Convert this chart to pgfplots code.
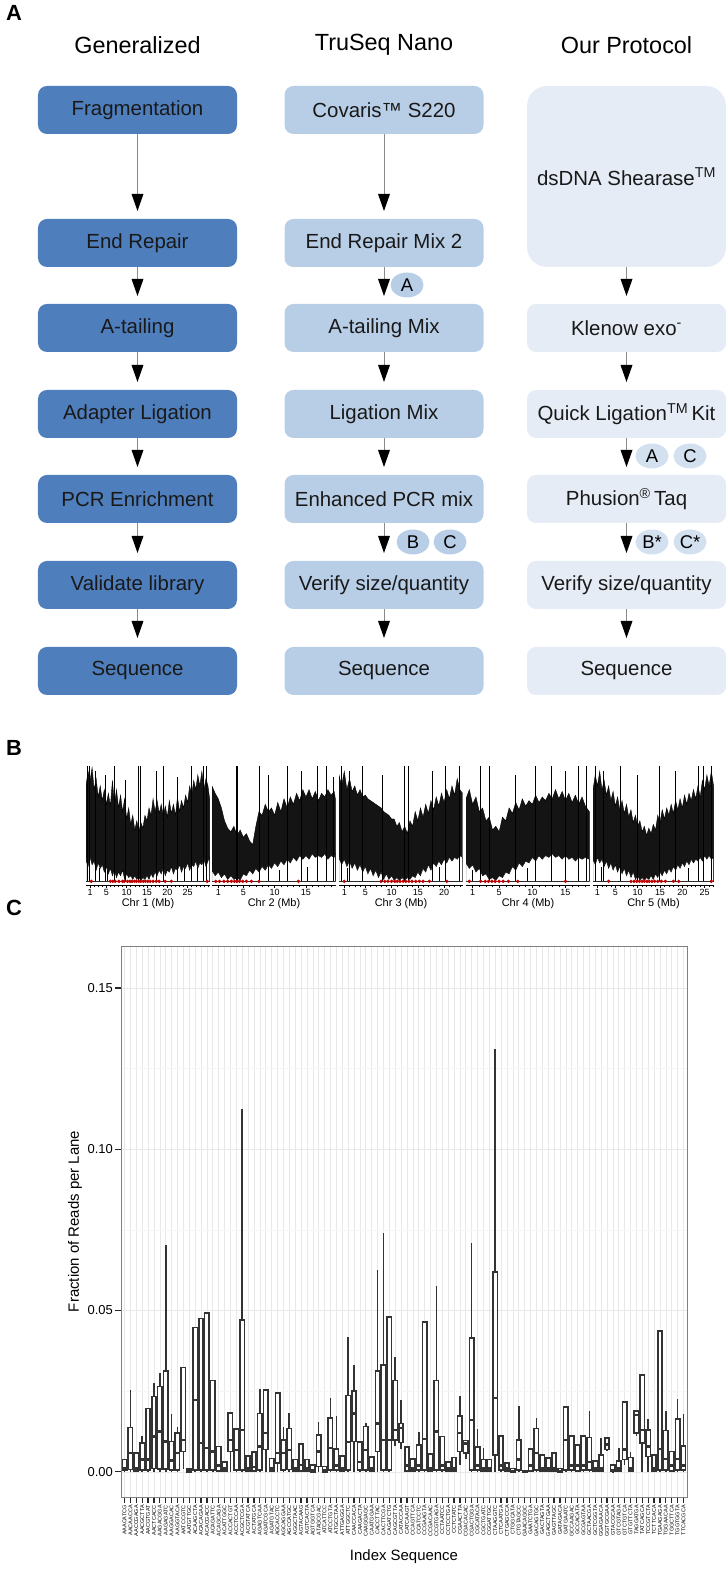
\documentclass[border=0pt]{standalone}
\usepackage{pgfplots}
\pgfplotsset{compat=1.18}
\usepgfplotslibrary{statistics}
\usetikzlibrary{shapes.geometric}
\usepackage{fontspec}
\setmainfont{Liberation Sans}
\definecolor{cA}{HTML}{4F7EBD}
\definecolor{cB}{HTML}{B8CEE6}
\definecolor{cC}{HTML}{E5ECF6}
\definecolor{eC}{HTML}{D3E0F0}
\definecolor{agray}{HTML}{8A8A8A}
\definecolor{bxc}{HTML}{333333}
\newcommand{\fs}[1]{\fontsize{#1}{#1}\selectfont}
\newcommand{\arr}[3]{\draw[agray, line width=0.9] (#1,{1578-#2}) -- (#1,{1578-#3+17});
  \fill[black] ({#1-6},{1578-#3+17}) -- ({#1+6},{1578-#3+17}) -- (#1,{1578-#3}) -- cycle;}
% box values are given in percent of reads per lane (fraction x 100)
\newcommand{\bx}[6]{\addplot[bxs, boxplot prepared={draw direction=y, draw position=#1, lower whisker=#2, lower quartile=#3, median=#4, upper quartile=#5, upper whisker=#6}] coordinates {};}
\pgfplotsset{chrax/.style={anchor=south west, scale only axis, width=124bp, height=121bp, ymin=-2, ymax=64,
  axis x line*=bottom, axis y line=none, xmin=0, axis on top,
  xtick={1,5,10,15,20,25}, minor xtick={1,2,...,30}, tick align=outside,
  major tick length=3bp, minor tick length=2.5bp, tick style={black, line width=0.5bp},
  x tick label style={font=\fs{9}, inner sep=1.5bp}, xlabel style={font=\fs{11}, inner sep=1bp},
  /pgf/number format/assume math mode=true, axis line style={black, line width=0.5bp}},
  up/.style={fill=black!92, draw=black, line width=0.4bp},
  lo/.style={fill=white, draw=black, line width=0.4bp},
  bxs/.style={draw=bxc, line width=1.6bp, fill=white, solid, boxplot/every median/.style={line width=2.4bp}}}
\begin{document}
\begin{tikzpicture}[x=1bp, y=1bp]
\path (0,0) rectangle (725,1578);
% ---------- Panel A ----------
\node[font=\bfseries\fs{22}] at (14,1565) {A};
\node[font=\fs{23.5}] at (137.5,1533) {Generalized};
\node[font=\fs{23.5}] at (384,1533) {TruSeq Nano};
\node[font=\fs{23.5}] at (626.5,1533) {Our Protocol};
\tikzset{bx/.style={rounded corners=9bp, minimum width=199bp, minimum height=48bp, inner sep=0pt, font=\fs{20.5}, text=black!90}}
\foreach \t/\y in {Fragmentation/1468, End Repair/1335, A-tailing/1250, Adapter Ligation/1164, PCR Enrichment/1079, Validate library/993, Sequence/907}
  {\node[bx, fill=cA] at (137.5,\y) {\t};}
\node[bx, fill=cB] at (384,1468) {Covaris™ S220};
\node[bx, fill=cB] at (384,1335) {End Repair Mix 2};
\node[bx, fill=cB] at (384,1250) {A-tailing Mix};
\node[bx, fill=cB] at (384,1164) {Ligation Mix};
\node[bx, fill=cB] at (384,1079) {Enhanced PCR mix};
\node[bx, fill=cB] at (384,993) {Verify size/quantity};
\node[bx, fill=cB] at (384,907) {Sequence};
\node[bx, fill=cC, rounded corners=20bp, minimum height=181bp] at (626.5,1401.5) {dsDNA Shearase\textsuperscript{TM}};
\node[bx, fill=cC] at (626.5,1250) {Klenow exo\textsuperscript{-}};
\node[bx, fill=cC] at (626.5,1164) {Quick Ligation\textsuperscript{TM}\,Kit};
\node[bx, fill=cC] at (626.5,1079) {Phusion\textsuperscript{®}\,Taq};
\node[bx, fill=cC] at (626.5,993) {Verify size/quantity};
\node[bx, fill=cC] at (626.5,907) {Sequence};
\foreach \xx in {137.5,384}{\arr{\xx}{134}{211}}
\foreach \xx in {137.5,384,626.5}{\arr{\xx}{267}{296}\arr{\xx}{352}{382}\arr{\xx}{438}{467}\arr{\xx}{523}{553}\arr{\xx}{609}{638}}
\tikzset{el/.style={ellipse, minimum width=33bp, minimum height=25bp, inner sep=0pt, font=\fs{18.5}}}
\node[el, fill=cB] at (407,1293) {A};
\node[el, fill=cB] at (413,1036) {B};
\node[el, fill=cB] at (450,1036) {C};
\node[el, fill=eC] at (652,1122) {A};
\node[el, fill=eC] at (690,1122) {C};
\node[el, fill=eC] at (652,1036) {B*};
\node[el, fill=eC] at (690,1036) {C*};
% ---------- Panel B ----------
\node[font=\bfseries\fs{22}] at (14,830) {B};
\begin{axis}[chrax, at={(86bp,693bp)}, xmax=30.5, xlabel={Chr 1 (Mb)},
  axis y line*=left, ytick={0,10,...,60}, ylabel={Coverage},
  yticklabel style={rotate=90, anchor=south, font=\fs{8.5}, inner sep=1.5bp},
  ylabel style={font=\fs{13}, inner sep=1bp}]
\addplot[up] coordinates {(0,52)(0.5,60)(1,55)(1.5,62)(2,50)(2.5,56)(3,46)(3.5,52)(4,44)(4.5,50)(5,42)(5.5,48)(6,41)(6.5,55)(7,42)(7.5,50)(8,40)(8.5,47)(9,38)(9.5,45)(10,34)(10.5,40)(11,31)(11.5,36)(12,28)(12.5,33)(13,27)(13.5,32)(14,29)(14.5,36)(15,33)(15.5,40)(16,36)(16.5,45)(17,38)(17.5,44)(18,37)(18.5,42)(19,36)(19.5,41)(20,35)(20.5,44)(21,37)(21.5,42)(22,36)(22.5,46)(23,38)(23.5,44)(24,40)(24.5,47)(25,43)(25.5,52)(26,47)(26.5,55)(27,50)(27.5,58)(28,52)(28.5,60)(29,50)(29.5,56)(30,52)(30.4,45)} \closedcycle;
\addplot[lo] coordinates {(0,12)(0.5,8)(1,13)(1.5,9)(2,11)(2.5,6)(3,10)(3.5,7)(4,9)(4.5,5)(5,8)(5.5,4)(6,7)(6.5,3)(7,6)(7.5,2)(8,5)(8.5,3)(9,6)(9.5,1)(10,4)(10.5,2)(11,3)(11.5,1)(12,3)(12.5,1)(13,2)(13.5,0.5)(14,2)(14.5,1)(15,3)(15.5,1)(16,4)(16.5,2)(17,5)(17.5,3)(18,6)(18.5,4)(19,7)(19.5,3)(20,6)(20.5,5)(21,8)(21.5,4)(22,7)(22.5,6)(23,9)(23.5,5)(24,8)(24.5,7)(25,10)(25.5,6)(26,9)(26.5,8)(27,11)(27.5,7)(28,10)(28.5,9)(29,12)(29.5,8)(30,11)(30.4,13)} \closedcycle;
\addplot[ycomb, black, line width=0.6bp, mark=none] coordinates {(0.3,63)(0.9,63)(2.2,60)(4.8,58)(7.0,63)(9.6,55)(12.9,63)(13.4,63)(17.4,60)(19.1,63)(22.5,57)(26.0,63)(28.9,63)(29.6,63)(0.8,9)(3.3,7)(5.2,6)(24.2,7)(27.3,8)};
\addplot[only marks, mark=*, mark size=1.5bp, color=red!75!black] coordinates {(1.3,0)(6.0,0)(6.6,0)(7.2,0)(8.1,0)(9.0,0)(9.4,0)(10.2,0)(10.8,0)(11.3,0)(11.9,0)(12.4,0)(13.0,0)(13.5,0)(14.1,0)(14.6,0)(15.2,0)(15.8,0)(16.5,0)(17.3,0)(18.0,0)(19.5,0)(21.0,0)(29.8,0)};
\end{axis}
\begin{axis}[chrax, at={(212bp,693bp)}, xmax=19.8, xlabel={Chr 2 (Mb)}]
\addplot[up] coordinates {(0,52)(0.5,48)(1,45)(1.5,40)(2,33)(2.5,29)(3,27)(3.5,30)(4,25)(4.5,28)(5,24)(5.5,26)(6,22)(6.5,20)(7,30)(7.5,38)(8,36)(8.5,42)(9,38)(9.5,40)(10,36)(10.5,43)(11,38)(11.5,45)(12,40)(12.5,46)(13,42)(13.5,48)(14,44)(14.5,50)(15,46)(15.5,50)(16,45)(16.5,49)(17,44)(17.5,48)(18,46)(18.5,50)(19,47)(19.5,49)(19.7,45)} \closedcycle;
\addplot[lo] coordinates {(0,6)(0.5,3)(1,5)(1.5,2)(2,4)(2.5,1)(3,3)(3.5,1)(4,2)(4.5,0.5)(5,4)(5.5,3)(6,6)(6.5,4)(7,7)(7.5,5)(8,8)(8.5,6)(9,9)(9.5,7)(10,10)(10.5,8)(11,11)(11.5,9)(12,12)(12.5,10)(13,13)(13.5,11)(14,14)(14.5,12)(15,14)(15.5,12)(16,15)(16.5,13)(17,14)(17.5,13)(18,15)(18.5,12)(19,14)(19.5,13)(19.7,15)} \closedcycle;
\addplot[ycomb, black, line width=0.6bp, mark=none] coordinates {(3.8,63)(4.1,63)(7.5,63)(9.0,58)(12.0,63)(14.3,60)(16.8,63)(18.3,63)(19.4,57)(1.2,0.5)(10.8,6)(15.2,8)};
\addplot[only marks, mark=*, mark size=1.5bp, color=red!75!black] coordinates {(0.6,0)(1.2,0)(1.9,0)(2.5,0)(3.1,0)(3.6,0)(4.0,0)(4.4,0)(4.9,0)(5.5,0)(6.3,0)(7.5,0)(13.8,0)};
\end{axis}
\begin{axis}[chrax, at={(339bp,693bp)}, xmax=23.6, xlabel={Chr 3 (Mb)}]
\addplot[up] coordinates {(0,58)(0.5,52)(1,60)(1.5,50)(2,56)(2.5,49)(3,52)(3.5,47)(4,50)(4.5,46)(5,47)(5.5,45)(6,44)(6.5,43)(7,42)(7.5,41)(8,40)(8.5,38)(9,37)(9.5,36)(10,34)(10.5,34)(11,30)(11.5,32)(12,27)(12.5,30)(13,26)(13.5,33)(14,30)(14.5,38)(15,33)(15.5,40)(16,35)(16.5,42)(17,37)(17.5,44)(18,39)(18.5,46)(19,41)(19.5,48)(20,43)(20.5,50)(21,45)(21.5,52)(22,47)(22.5,56)(23,50)(23.5,48)} \closedcycle;
\addplot[lo] coordinates {(0,13)(0.5,9)(1,12)(1.5,8)(2,11)(2.5,7)(3,10)(3.5,6)(4,9)(4.5,5)(5,8)(5.5,4)(6,7)(6.5,3)(7,6)(7.5,2)(8,5)(8.5,1)(9,4)(9.5,1)(10,3)(10.5,0.5)(11,2)(11.5,0.5)(12,2)(12.5,0.5)(13,2)(13.5,1)(14,3)(14.5,2)(15,5)(15.5,3)(16,7)(16.5,5)(17,9)(17.5,6)(18,10)(18.5,8)(19,11)(19.5,9)(20,12)(20.5,10)(21,13)(21.5,11)(22,13)(22.5,12)(23,14)(23.5,13)} \closedcycle;
\addplot[ycomb, black, line width=0.6bp, mark=none] coordinates {(0.4,63)(2.0,60)(4.5,63)(8.2,58)(12.5,63)(13.1,63)(17.8,60)(20.3,63)(22.9,63)(1.5,7)(19.0,8)};
\addplot[only marks, mark=*, mark size=1.5bp, color=red!75!black] coordinates {(1.0,0)(8.0,0)(8.7,0)(9.3,0)(10.0,0)(10.6,0)(11.1,0)(11.6,0)(12.2,0)(12.7,0)(13.3,0)(13.9,0)(14.6,0)(15.3,0)(16.0,0)(17.2,0)(20.5,0)};
\end{axis}
\begin{axis}[chrax, at={(466bp,693bp)}, xmax=18.7, xlabel={Chr 4 (Mb)}]
\addplot[up] coordinates {(0,45)(0.5,50)(1,42)(1.5,46)(2,38)(2.5,40)(3,33)(3.5,35)(4,28)(4.5,30)(5,27)(5.5,35)(6,33)(6.5,40)(7,37)(7.5,43)(8,39)(8.5,45)(9,41)(9.5,44)(10,42)(10.5,47)(11,43)(11.5,46)(12,44)(12.5,48)(13,45)(13.5,50)(14,45)(14.5,49)(15,44)(15.5,48)(16,43)(16.5,47)(17,42)(17.5,46)(18,41)(18.6,38)} \closedcycle;
\addplot[lo] coordinates {(0,10)(0.5,7)(1,9)(1.5,5)(2,7)(2.5,3)(3,4)(3.5,1)(4,2)(4.5,0.5)(5,3)(5.5,2)(6,5)(6.5,4)(7,8)(7.5,6)(8,10)(8.5,8)(9,11)(9.5,10)(10,13)(10.5,11)(11,14)(11.5,12)(12,14)(12.5,13)(13,15)(13.5,13)(14,14)(14.5,12)(15,14)(15.5,12)(16,13)(16.5,11)(17,13)(17.5,12)(18,13)(18.6,12)} \closedcycle;
\addplot[ycomb, black, line width=0.6bp, mark=none] coordinates {(2.1,63)(3.5,63)(7.4,58)(10.5,63)(12.8,63)(14.9,60)(17.0,63)(18.2,63)(1.0,6)(9.2,7)};
\addplot[only marks, mark=*, mark size=1.5bp, color=red!75!black] coordinates {(0.5,0)(2.2,0)(2.9,0)(3.4,0)(3.9,0)(4.4,0)(5.0,0)(5.6,0)(6.4,0)(7.8,0)(15.0,0)};
\end{axis}
\begin{axis}[chrax, at={(593bp,693bp)}, xmax=27.1, width=121bp, xlabel={Chr 5 (Mb)}]
\addplot[up] coordinates {(0,50)(0.5,58)(1,52)(1.5,60)(2,50)(2.5,55)(3,47)(3.5,52)(4,44)(4.5,49)(5,41)(5.5,46)(6,39)(6.5,44)(7,37)(7.5,42)(8,35)(8.5,39)(9,32)(9.5,36)(10,30)(10.5,33)(11,27)(11.5,30)(12,25)(12.5,29)(13,26)(13.5,31)(14,28)(14.5,36)(15,32)(15.5,39)(16,34)(16.5,40)(17,36)(17.5,42)(18,37)(18.5,44)(19,39)(19.5,45)(20,40)(20.5,47)(21,42)(21.5,48)(22,44)(22.5,50)(23,45)(23.5,52)(24,46)(24.5,55)(25,50)(25.5,58)(26,52)(26.5,60)(27,52)} \closedcycle;
\addplot[lo] coordinates {(0,12)(0.5,9)(1,13)(1.5,10)(2,12)(2.5,8)(3,11)(3.5,7)(4,10)(4.5,6)(5,9)(5.5,5)(6,8)(6.5,4)(7,7)(7.5,3)(8,6)(8.5,2)(9,5)(9.5,1)(10,3)(10.5,0.5)(11,2)(11.5,0.5)(12,2)(12.5,1)(13,3)(13.5,1)(14,4)(14.5,2)(15,5)(15.5,3)(16,6)(16.5,4)(17,7)(17.5,5)(18,8)(18.5,6)(19,9)(19.5,7)(20,10)(20.5,8)(21,11)(21.5,9)(22,12)(22.5,10)(23,12)(23.5,11)(24,13)(24.5,11)(25,14)(25.5,12)(26,14)(26.5,12)(27,13)} \closedcycle;
\addplot[ycomb, black, line width=0.6bp, mark=none] coordinates {(0.5,63)(2.3,60)(6.1,63)(9.9,58)(14.8,63)(18.5,60)(23.5,63)(24.8,63)(26.4,63)(1.8,8)(21.4,7)};
\addplot[only marks, mark=*, mark size=1.5bp, color=red!75!black] coordinates {(3.5,0)(8.5,0)(9.2,0)(9.8,0)(10.4,0)(11.0,0)(11.5,0)(12.1,0)(12.6,0)(13.2,0)(13.8,0)(14.5,0)(15.3,0)(16.2,0)(18.0,0)(19.2,0)(26.5,0)};
\end{axis}
% ---------- Panel C ----------
\node[font=\bfseries\fs{22}] at (14,670) {C};
\begin{axis}[at={(121bp,81bp)}, anchor=south west, scale only axis, width=566bp, height=551bp,
  xmin=0.4, xmax=96.6, ymin=-0.78, ymax=16.3,
  xtick={1,...,96}, xtick pos=bottom, ytick pos=left,
  xticklabels={AAACATCG,AACAACCA,AACCGAGA,AACGCTTA,AACGTGAT,AACTCACC,AAGACGGA,AAGAGATC,AAGGACAC,AAGGTACA,AATCCGTC,AATGTTGC,ACAAGCTA,ACACAGAA,ACACGACC,ACAGATTC,ACAGCAGA,ACATTGGC,ACCACTGT,ACCTCCAA,ACGCTCGA,ACGTATCA,ACTATGCA,AGAGTCAA,AGATCGCA,AGATGTAC,AGCACCTC,AGCAGGAA,AGCCATGC,AGGCTAAC,AGTACAAG,AGTCACTA,AGTGGTCA,ATAGCGAC,ATCATTCC,ATCCTGTA,ATGCCTAA,ATTGAGGA,ATTGGCTC,CAACCACA,CAAGACTA,CAAGGAGC,CAATGGAA,CACCTTAC,CACTTCGA,CAGATCTG,CAGCGTTA,CATACCAA,CATCAAGT,CCAGTTCA,CCATCCTC,CCGAAGTA,CCGACAAC,CCGTGAGA,CCTAATCC,CCTCCTGA,CCTCTATC,CGAACTTA,CGACACAC,CGACTGGA,CGCATACA,CGCTGATC,CGGATTGC,CTAAGGTC,CTCAATGA,CTGAGCCA,CTGGCATA,CTGTAGCC,GAACAGGC,GAATCTGA,GACAGTGC,GACTAGTA,GAGCTGAA,GAGTTAGC,GATAGACA,GATGAATC,GCCAAGAC,GCCACATA,GCGAGTAA,GCTAACGA,GCTCGGTA,GGAGAACA,GGTGCGAA,GTACGCAA,GTCGTAGA,GTCTGTCA,GTGTTCTA,TAGGATGA,TATCAGCA,TCCGTCTA,TCTTCACA,TGAAGAGA,TGGAACAA,TGGCTTCA,TGGTGGTA,TTCACGCA},
  ytick={0,5,10,15}, yticklabels={0.00,0.05,0.10,0.15}, minor ytick={2.5,7.5,12.5},
  xmajorgrids, ymajorgrids, yminorgrids,
  major grid style={draw=black!9, line width=0.6bp}, minor grid style={draw=black!4, line width=0.5bp},
  axis line style={draw=black!50, line width=0.7bp},
  tick align=outside, major tick length=6bp, minor tick length=0bp, tick style={draw=black!85, line width=1.2bp},
  x tick label style={rotate=90, anchor=east, font=\fs{5.5}, inner sep=2bp},
  y tick label style={font=\fs{13}, inner sep=2bp},
  xlabel={Index Sequence}, ylabel={Fraction of Reads per Lane},
  xlabel style={font=\fs{15}, inner sep=2bp, yshift=-9bp}, ylabel style={font=\fs{15}},
  boxplot/draw direction=y, boxplot/box extend=0.75, boxplot/whisker extend=0]
\bx{1}{0}{0.04}{0.10}{0.38}{0.38}
\bx{2}{0}{0.07}{0.58}{1.38}{2.55}
\bx{3}{0}{0.03}{0.10}{0.58}{0.58}
\bx{4}{0}{0.05}{0.38}{0.89}{1.10}
\bx{5}{0}{0.05}{0.38}{1.96}{1.96}
\bx{6}{0}{0.10}{1.10}{2.34}{2.75}
\bx{7}{0}{0.08}{1.25}{2.65}{3.06}
\bx{8}{0}{0.08}{0.94}{3.12}{7.03}
\bx{9}{0}{0.05}{0.35}{0.94}{1.80}
\bx{10}{0}{0.05}{0.58}{1.20}{1.38}
\bx{11}{0.10}{0.63}{0.99}{3.24}{3.24}
\bx{12}{0}{0}{0.03}{0.08}{0.10}
\bx{13}{0}{0.05}{2.22}{4.47}{4.47}
\bx{14}{0}{0.05}{0.89}{4.75}{4.75}
\bx{15}{0}{0.05}{0.74}{4.93}{4.93}
\bx{16}{0}{0.05}{0.63}{2.83}{2.83}
\bx{17}{0}{0.03}{0.20}{0.79}{0.79}
\bx{18}{0}{0.02}{0.10}{0.30}{0.30}
\bx{19}{0}{0.63}{0.99}{1.83}{1.83}
\bx{20}{0}{0.06}{0.68}{1.32}{1.35}
\bx{21}{0}{0.06}{1.30}{4.70}{11.26}
\bx{22}{0}{0.03}{0.10}{0.50}{0.50}
\bx{23}{0}{0.03}{0.15}{0.62}{0.62}
\bx{24}{0}{0.05}{0.79}{1.81}{2.58}
\bx{25}{0}{0.69}{1.20}{2.53}{2.53}
\bx{26}{0}{0.03}{0.10}{0.41}{0.41}
\bx{27}{0}{0.28}{0.58}{2.44}{2.44}
\bx{28}{0}{0.05}{0.58}{0.99}{1.40}
\bx{29}{0}{0.07}{0.68}{1.34}{1.81}
\bx{30}{0}{0.03}{0.10}{0.38}{0.38}
\bx{31}{0}{0.03}{0.22}{0.86}{0.86}
\bx{32}{0}{0.03}{0.10}{0.38}{0.38}
\bx{33}{0}{0}{0.05}{0.22}{0.22}
\bx{34}{0}{0.17}{0.63}{1.15}{1.55}
\bx{35}{0}{0}{0.05}{0.17}{0.17}
\bx{36}{0}{0.05}{0.74}{1.66}{2.29}
\bx{37}{0}{0.05}{0.20}{0.70}{1.73}
\bx{38}{0}{0.03}{0.10}{0.50}{0.50}
\bx{39}{0}{0.05}{0.92}{2.37}{4.18}
\bx{40}{0}{0.94}{1.81}{2.50}{3.32}
\bx{41}{0}{0.05}{0.30}{0.92}{0.92}
\bx{42}{0}{0.05}{0.68}{1.40}{1.52}
\bx{43}{0}{0.03}{0.10}{0.46}{0.46}
\bx{44}{0}{0.63}{1.50}{3.12}{6.27}
\bx{45}{0}{0.05}{0.99}{3.31}{7.40}
\bx{46}{0}{0.05}{0.99}{4.80}{4.80}
\bx{47}{0.80}{0.99}{1.30}{2.83}{3.57}
\bx{48}{0.70}{0.91}{1.35}{1.50}{2.24}
\bx{49}{0}{0.03}{0.20}{0.77}{0.77}
\bx{50}{0}{0.03}{0.10}{0.40}{0.40}
\bx{51}{0}{0.05}{0.20}{0.84}{1.22}
\bx{52}{0}{0.05}{1.01}{4.65}{4.65}
\bx{53}{0}{0.03}{0.10}{0.55}{0.55}
\bx{54}{0}{0.05}{1.25}{2.83}{5.77}
\bx{55}{0}{0.05}{0.20}{1.10}{1.10}
\bx{56}{0}{0.02}{0.10}{0.30}{0.30}
\bx{57}{0}{0.03}{0.10}{0.45}{0.45}
\bx{58}{0.20}{0.63}{1.20}{1.73}{2.34}
\bx{59}{0.40}{0.58}{0.88}{0.97}{0.97}
\bx{60}{0}{0.05}{1.60}{4.14}{7.08}
\bx{61}{0}{0.05}{0.20}{0.77}{1.32}
\bx{62}{0}{0.03}{0.10}{0.38}{0.74}
\bx{63}{0}{0.03}{0.10}{0.38}{0.38}
\bx{64}{0}{0.53}{2.29}{6.20}{13.12}
\bx{65}{0}{0.05}{0.20}{1.11}{1.11}
\bx{66}{0}{0.02}{0.10}{0.28}{0.28}
\bx{67}{0}{0}{0.03}{0.10}{0.10}
\bx{68}{0}{0.05}{0.38}{0.99}{2.03}
\bx{69}{0}{0}{0.01}{0.03}{0.03}
\bx{70}{0}{0.03}{0.20}{0.70}{0.70}
\bx{71}{0}{0.05}{0.58}{1.34}{1.66}
\bx{72}{0}{0.03}{0.10}{0.52}{0.52}
\bx{73}{0}{0.03}{0.10}{0.43}{0.43}
\bx{74}{0}{0.03}{0.10}{0.58}{0.58}
\bx{75}{0}{0}{0.03}{0.10}{0.10}
\bx{76}{0}{0.05}{0.99}{2.01}{2.01}
\bx{77}{0}{0.05}{0.20}{1.11}{1.11}
\bx{78}{0}{0.03}{0.20}{0.84}{0.84}
\bx{79}{0}{0.05}{0.20}{1.11}{1.11}
\bx{80}{0}{0.05}{0.30}{1.07}{1.89}
\bx{81}{0}{0.02}{0.10}{0.33}{0.33}
\bx{82}{0}{0.03}{0.10}{0.52}{1.04}
\bx{83}{0.65}{0.69}{0.85}{1.04}{1.04}
\bx{84}{0}{0.01}{0.05}{0.22}{0.22}
\bx{85}{0}{0.02}{0.10}{0.33}{0.74}
\bx{86}{0.20}{0.38}{0.69}{2.17}{2.17}
\bx{87}{0}{0.03}{0.10}{0.45}{0.63}
\bx{88}{1.10}{1.20}{1.76}{1.88}{1.88}
\bx{89}{0}{0.89}{1.30}{3.00}{3.00}
\bx{90}{0}{0.48}{0.78}{1.30}{1.63}
\bx{91}{0}{0.03}{0.10}{0.53}{0.53}
\bx{92}{0}{0.05}{0.70}{4.37}{4.37}
\bx{93}{0}{0.05}{0.40}{1.28}{1.90}
\bx{94}{0}{0.03}{0.20}{0.63}{0.63}
\bx{95}{0}{0.05}{0.40}{1.63}{2.27}
\bx{96}{0}{0.05}{0.20}{0.81}{1.78}
\end{axis}
\end{tikzpicture}
\end{document}
